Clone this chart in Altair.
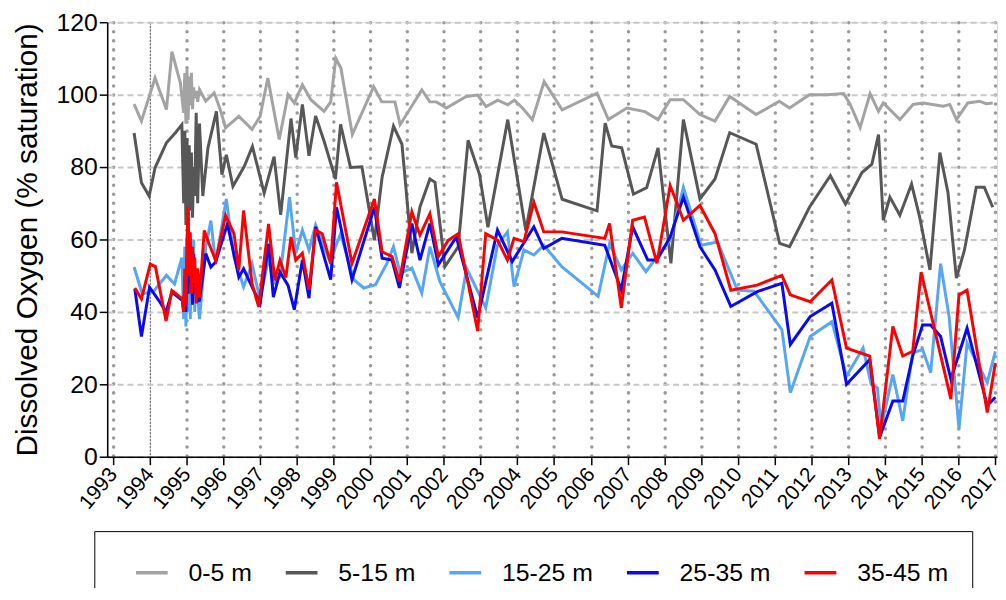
import altair as alt
import pandas as pd

series_names = ["0-5 m", "5-15 m", "15-25 m", "25-35 m", "35-45 m"]
series_colors = ["#a3a3a3", "#575757", "#55a6f5", "#0a0af0", "#ff0000"]

year_ticks = list(range(1993, 2018))
value_ticks = [0, 20, 40, 60, 80, 100, 120]

# 0-5 m
t_a = [1993.57, 1993.77, 1994.14, 1994.45, 1994.60, 1994.83,
       1994.92, 1994.95, 1994.98, 1995.01, 1995.04, 1995.07, 1995.10, 1995.13, 1995.16, 1995.19, 1995.22, 1995.26, 1995.30, 1995.35,
       1995.52, 1995.75, 1995.93, 1996.06, 1996.42, 1996.78, 1997.00, 1997.21, 1997.52, 1997.76, 1997.93, 1998.15, 1998.38,
       1998.74, 1998.92, 1999.06, 1999.20, 1999.51, 2000.09, 2000.31, 2000.67, 2000.81, 2001.40, 2001.62, 2001.80, 2002.07,
       2002.61, 2002.92, 2003.15, 2003.47, 2003.74, 2003.92, 2004.14, 2004.41, 2004.73, 2005.22, 2006.17, 2006.48, 2006.98,
       2007.47, 2007.83, 2008.16, 2008.52, 2008.97, 2009.38, 2009.78, 2010.50, 2011.13, 2011.41, 2011.95, 2012.44, 2012.88,
       2013.06, 2013.33, 2013.60, 2013.83, 2013.96, 2014.41, 2014.77, 2015.05, 2015.59, 2015.77, 2015.95, 2016.26, 2016.58,
       2016.76, 2016.94]
v_a = [97.4, 92.7, 104.6, 95.9, 111.9, 103.2,
       95, 106, 92, 107, 93, 105, 97, 106, 96, 102, 99, 101, 98, 101.4,
       98.2, 100.5, 95.4, 90.8, 94.0, 90.4, 94.0, 104.6, 87.6, 100.0, 97.7, 102.7, 98.6,
       95.4, 98.0, 110.0, 107.3, 89.0, 102.2, 98.0, 98.0, 91.7, 101.3, 98.0, 98.0, 96.3,
       99.5, 99.9, 96.7, 98.5, 97.2, 98.5, 96.3, 93.1, 103.6, 95.8, 100.4, 93.1, 96.3,
       95.3, 93.1, 98.6, 98.6, 94.5, 92.7, 99.5, 94.5, 98.2, 96.3, 100.0, 100.0, 100.3,
       97.3, 90.9, 100.3, 95.4, 97.7, 93.1, 97.3, 97.7, 96.8, 97.3, 93.1, 97.7, 98.2,
       97.5, 97.7]

# 5-15 m
t_b = [1993.57, 1993.77, 1993.98, 1994.14, 1994.45, 1994.69, 1994.87,
       1994.92, 1994.95, 1994.98, 1995.01, 1995.04, 1995.07, 1995.10, 1995.13, 1995.16, 1995.19, 1995.22, 1995.26, 1995.30, 1995.35,
       1995.44, 1995.58, 1995.81, 1995.96, 1996.08, 1996.26, 1996.57, 1996.79, 1997.11, 1997.38, 1997.56, 1997.84, 1997.97,
       1998.15, 1998.33, 1998.51, 1998.74, 1999.05, 1999.19, 1999.46, 1999.77, 2000.11, 2000.32, 2000.63, 2000.86, 2001.13,
       2001.35, 2001.62, 2001.76, 2002.03, 2002.39, 2002.66, 2002.97, 2003.20, 2003.74, 2004.23, 2004.72, 2005.22, 2006.17,
       2006.39, 2006.57, 2006.84, 2007.16, 2007.52, 2007.83, 2008.18, 2008.52, 2008.97, 2009.38, 2009.78, 2010.50, 2011.14,
       2011.41, 2011.95, 2012.52, 2012.93, 2013.38, 2013.65, 2013.83, 2013.96, 2014.14, 2014.41, 2014.73, 2014.95, 2015.23,
       2015.50, 2015.72, 2015.95, 2016.17, 2016.49, 2016.71, 2016.94]
v_b = [89.4, 75.7, 72.0, 79.8, 86.7, 89.4, 91.7,
       70, 90, 64, 88, 62, 86, 68, 84, 66, 80, 72, 95, 70, 92,
       72, 85.3, 95.4, 77.9, 83.4, 74.7, 80.2, 85.7, 72.8, 82.9, 66.8, 93.4, 82.6,
       97.3, 83.1, 94.1, 87.2, 76.7, 91.8, 79.9, 80.1, 59.8, 77.2, 91.3, 86.3, 56.2,
       69.0, 76.7, 75.8, 52.5, 58.0, 87.4, 78.0, 63.4, 93.1, 62.5, 89.4, 71.1, 67.9,
       92.1, 85.8, 85.3, 72.5, 74.3, 85.3, 53.4, 93.1, 71.2, 76.7, 89.5, 86.3, 58.9,
       58.0, 68.9, 77.6, 69.8, 78.5, 80.8, 89.0, 65.3, 71.7, 66.7, 75.3, 66.2, 51.6,
       84.0, 73.0, 49.3, 57.1, 74.4, 74.4, 68.9]

# 15-25 m
t_c = [1993.57, 1993.79, 1994.09, 1994.45, 1994.67, 1994.87,
       1994.92, 1994.95, 1994.98, 1995.01, 1995.04, 1995.07, 1995.10, 1995.13, 1995.16, 1995.19, 1995.22, 1995.26, 1995.30, 1995.35,
       1995.52, 1995.66, 1995.79, 1996.08, 1996.29, 1996.55, 1996.78, 1997.00, 1997.23, 1997.36, 1997.54, 1997.80, 1997.97,
       1998.15, 1998.33, 1998.51, 1998.74, 1998.92, 1999.05, 1999.19, 1999.55, 1999.82, 2000.14, 2000.45, 2000.63, 2000.81,
       2001.13, 2001.40, 2001.62, 2001.89, 2002.39, 2002.62, 2003.14, 2003.46, 2003.73, 2003.91, 2004.18, 2004.45, 2004.72,
       2005.21, 2006.20, 2006.51, 2006.83, 2007.14, 2007.50, 2007.80, 2008.16, 2008.52, 2009.00, 2009.45, 2009.99, 2010.44,
       2011.20, 2011.43, 2011.97, 2012.56, 2012.96, 2013.41, 2013.63, 2013.80, 2013.90, 2014.22, 2014.49, 2014.76, 2015.03,
       2015.25, 2015.52, 2015.75, 2016.02, 2016.24, 2016.79, 2017.01]
v_c = [52.4, 45.0, 45.5, 50.1, 47.7, 55.0,
       38, 58, 36, 60, 40, 62, 38, 55, 42, 60, 40, 52, 45, 38,
       57.9, 65.2, 53.3, 71.2, 55.1, 46.9, 53.3, 43.2, 55.1, 47.8, 49.6, 71.7, 56.2,
       62.6, 57.1, 64.0, 58.0, 53.4, 58.0, 61.6, 48.9, 46.6, 47.5, 53.4, 58.0, 50.7,
       52.1, 45.2, 58.0, 48.4, 38.4, 52.0, 41.1, 58.4, 62.1, 47.0, 57.1, 55.7, 58.4,
       52.5, 44.3, 58.9, 51.6, 56.2, 51.1, 55.2, 59.8, 74.4, 58.4, 59.3, 46.0, 45.7,
       35.1, 17.7, 33.2, 37.3, 22.3, 30.0, 20.0, 19.0, 8.0, 22.7, 9.9, 28.7, 29.6,
       23.2, 53.3, 38.8, 7.7, 31.4, 20.5, 29.1]

# 25-35 m
t_d = [1993.59, 1993.77, 1993.99, 1994.24, 1994.44, 1994.60, 1994.88,
       1994.92, 1994.95, 1994.98, 1995.01, 1995.04, 1995.07, 1995.10, 1995.13, 1995.16, 1995.19, 1995.22, 1995.26, 1995.30, 1995.35,
       1995.52, 1995.66, 1995.79, 1996.11, 1996.42, 1996.55, 1996.78, 1997.00, 1997.23, 1997.36, 1997.54, 1997.76, 1997.93,
       1998.15, 1998.33, 1998.51, 1998.92, 1999.08, 1999.50, 2000.11, 2000.32, 2000.59, 2000.79, 2001.13, 2001.35, 2001.62,
       2001.85, 2002.34, 2002.92, 2003.46, 2003.86, 2004.45, 2004.72, 2005.21, 2006.38, 2006.83, 2007.14, 2007.55, 2007.80,
       2008.16, 2008.52, 2008.97, 2009.38, 2009.81, 2010.53, 2011.20, 2011.43, 2011.97, 2012.56, 2012.96, 2013.59, 2013.86,
       2014.22, 2014.49, 2014.76, 2015.03, 2015.25, 2015.52, 2015.80, 2016.24, 2016.79, 2017.01]
v_d = [46.4, 33.2, 46.8, 43.2, 40.0, 45.5, 43.2,
       40, 48, 40, 55, 45, 60, 48, 52, 42, 56, 45, 50, 43, 43.2,
       56.1, 52.4, 53.8, 64.3, 49.6, 51.9, 46.9, 42.3, 58.8, 44.1, 51.0, 47.3, 40.6,
       54.3, 43.8, 63.5, 48.9, 68.9, 48.9, 68.9, 54.8, 54.3, 46.6, 64.4, 54.3, 64.4,
       53.0, 60.7, 38.4, 62.6, 53.9, 63.5, 57.5, 60.3, 58.4, 46.1, 63.5, 54.3, 54.3,
       60.7, 71.7, 58.0, 51.6, 41.5, 45.6, 47.9, 31.0, 38.7, 42.4, 20.0, 26.8, 5.4,
       15.4, 15.4, 27.8, 36.4, 36.4, 33.2, 21.4, 35.5, 14.1, 16.4]

# 35-45 m
t_e = [1993.59, 1993.77, 1994.01, 1994.15, 1994.44, 1994.60, 1994.88,
       1994.92, 1994.95, 1994.98, 1995.01, 1995.04, 1995.07, 1995.10, 1995.13, 1995.16, 1995.19, 1995.22, 1995.26, 1995.30, 1995.35,
       1995.48, 1995.61, 1995.79, 1996.06, 1996.29, 1996.42, 1996.55, 1996.78, 1996.96, 1997.23, 1997.40, 1997.54, 1997.70,
       1997.84, 1997.97, 1998.15, 1998.33, 1998.51, 1998.69, 1998.92, 1999.08, 1999.50, 2000.11, 2000.32, 2000.59, 2000.79,
       2001.13, 2001.35, 2001.62, 2001.85, 2002.12, 2002.39, 2002.92, 2003.14, 2003.46, 2003.73, 2003.91, 2004.18, 2004.45,
       2004.72, 2005.21, 2006.38, 2006.51, 2006.83, 2007.14, 2007.46, 2007.80, 2008.16, 2008.52, 2008.97, 2009.38, 2009.81,
       2010.53, 2011.20, 2011.43, 2011.97, 2012.56, 2012.96, 2013.59, 2013.86, 2014.22, 2014.49, 2014.76, 2014.99, 2015.80,
       2016.02, 2016.24, 2016.79, 2017.01]
v_e = [46.6, 43.6, 53.2, 52.5, 37.5, 45.9, 43.6,
       40, 52, 42, 60, 69, 50, 62, 45, 58, 48, 55, 42.3, 52, 44,
       62.5, 58.8, 54.2, 66.6, 61.6, 51.5, 68.0, 47.8, 41.4, 64.3, 48.7, 54.2, 49.5,
       60.7, 54.3, 56.2, 46.1, 62.6, 61.6, 53.4, 75.8, 53.4, 71.2, 56.6, 55.3, 48.4,
       67.6, 61.2, 67.1, 55.3, 59.8, 61.6, 34.7, 61.6, 59.8, 54.3, 60.3, 59.4, 70.3,
       62.1, 62.1, 60.3, 64.4, 41.1, 65.3, 66.2, 53.4, 74.9, 65.3, 69.4, 61.6, 46.0,
       47.4, 50.1, 44.7, 42.8, 48.8, 30.0, 27.8, 4.9, 36.0, 27.8, 29.1, 51.0, 15.9,
       44.7, 46.0, 12.2, 25.9]

all_series = [(series_names[0], t_a, v_a), (series_names[1], t_b, v_b), (series_names[2], t_c, v_c),
              (series_names[3], t_d, v_d), (series_names[4], t_e, v_e)]
rows = []
for name, ts, vs in all_series:
    for t, v in zip(ts, vs):
        rows.append({"series": name, "year": t, "value": v})
df = pd.DataFrame(rows)

FONT = "Liberation Sans"
is_1994 = "datum.value === 1994"

x_enc = alt.X(
    "year:Q",
    scale=alt.Scale(domain=[1992.838, 2017.055], nice=False, zero=False),
    axis=alt.Axis(
        values=year_ticks, format="d", title=None,
        labelAngle=-50, labelFontSize=21, labelFont=FONT, labelColor="black",
        labelOverlap=False, labelFlush=False, labelPadding=6,
        tickSize=8, tickColor="black", tickWidth=1.5,
        domainColor="black", domainWidth=1.5,
        grid=True, gridCap="round",
        gridColor={"condition": {"test": is_1994, "value": "#707070"}, "value": "#9a9a9a"},
        gridWidth={"condition": {"test": is_1994, "value": 1.2}, "value": 3.5},
        gridDash={"condition": {"test": is_1994, "value": [1.5, 2]}, "value": [0.1, 9]},
    ),
)
y_enc = alt.Y(
    "value:Q",
    scale=alt.Scale(domain=[0, 120], nice=False),
    axis=alt.Axis(
        values=value_ticks, title="Dissolved Oxygen (% saturation)",
        titleFont=FONT, titleFontSize=30, titleFontWeight="normal", titleColor="black", titlePadding=14,
        labelFont=FONT, labelFontSize=25, labelColor="black", labelPadding=2,
        tickSize=8, tickColor="black", tickWidth=1.5,
        domainColor="black", domainWidth=1.5,
        grid=True, gridColor="#c8c8c8", gridDash=[6, 4], gridWidth=2,
    ),
)
color_enc = alt.Color(
    "series:N",
    scale=alt.Scale(domain=series_names, range=series_colors),
    legend=alt.Legend(
        title=None, orient="none", legendX=-13, legendY=513, direction="horizontal",
        symbolType="stroke", symbolSize=1024, symbolStrokeWidth=3.5, symbolOffset=16,
        labelFont=FONT, labelFontSize=25, labelColor="black", labelOffset=19,
        columnPadding=16, padding=24,
        strokeColor="black", fillColor="white",
    ),
)

layers = []
for name in series_names:
    layers.append(
        alt.Chart(df)
        .transform_filter(alt.datum.series == name)
        .mark_line(strokeWidth=3)
        .encode(x=x_enc, y=y_enc, color=color_enc)
    )

chart = alt.layer(*layers).properties(
    width=897, height=438,
    padding={"left": 100, "top": 12, "right": 1, "bottom": 130},
    autosize=alt.AutoSizeParams(type="none"),
).configure_view(stroke=None).configure(font=FONT)

chart.save("out.html", embed_options={"renderer": "svg", "actions": False})
